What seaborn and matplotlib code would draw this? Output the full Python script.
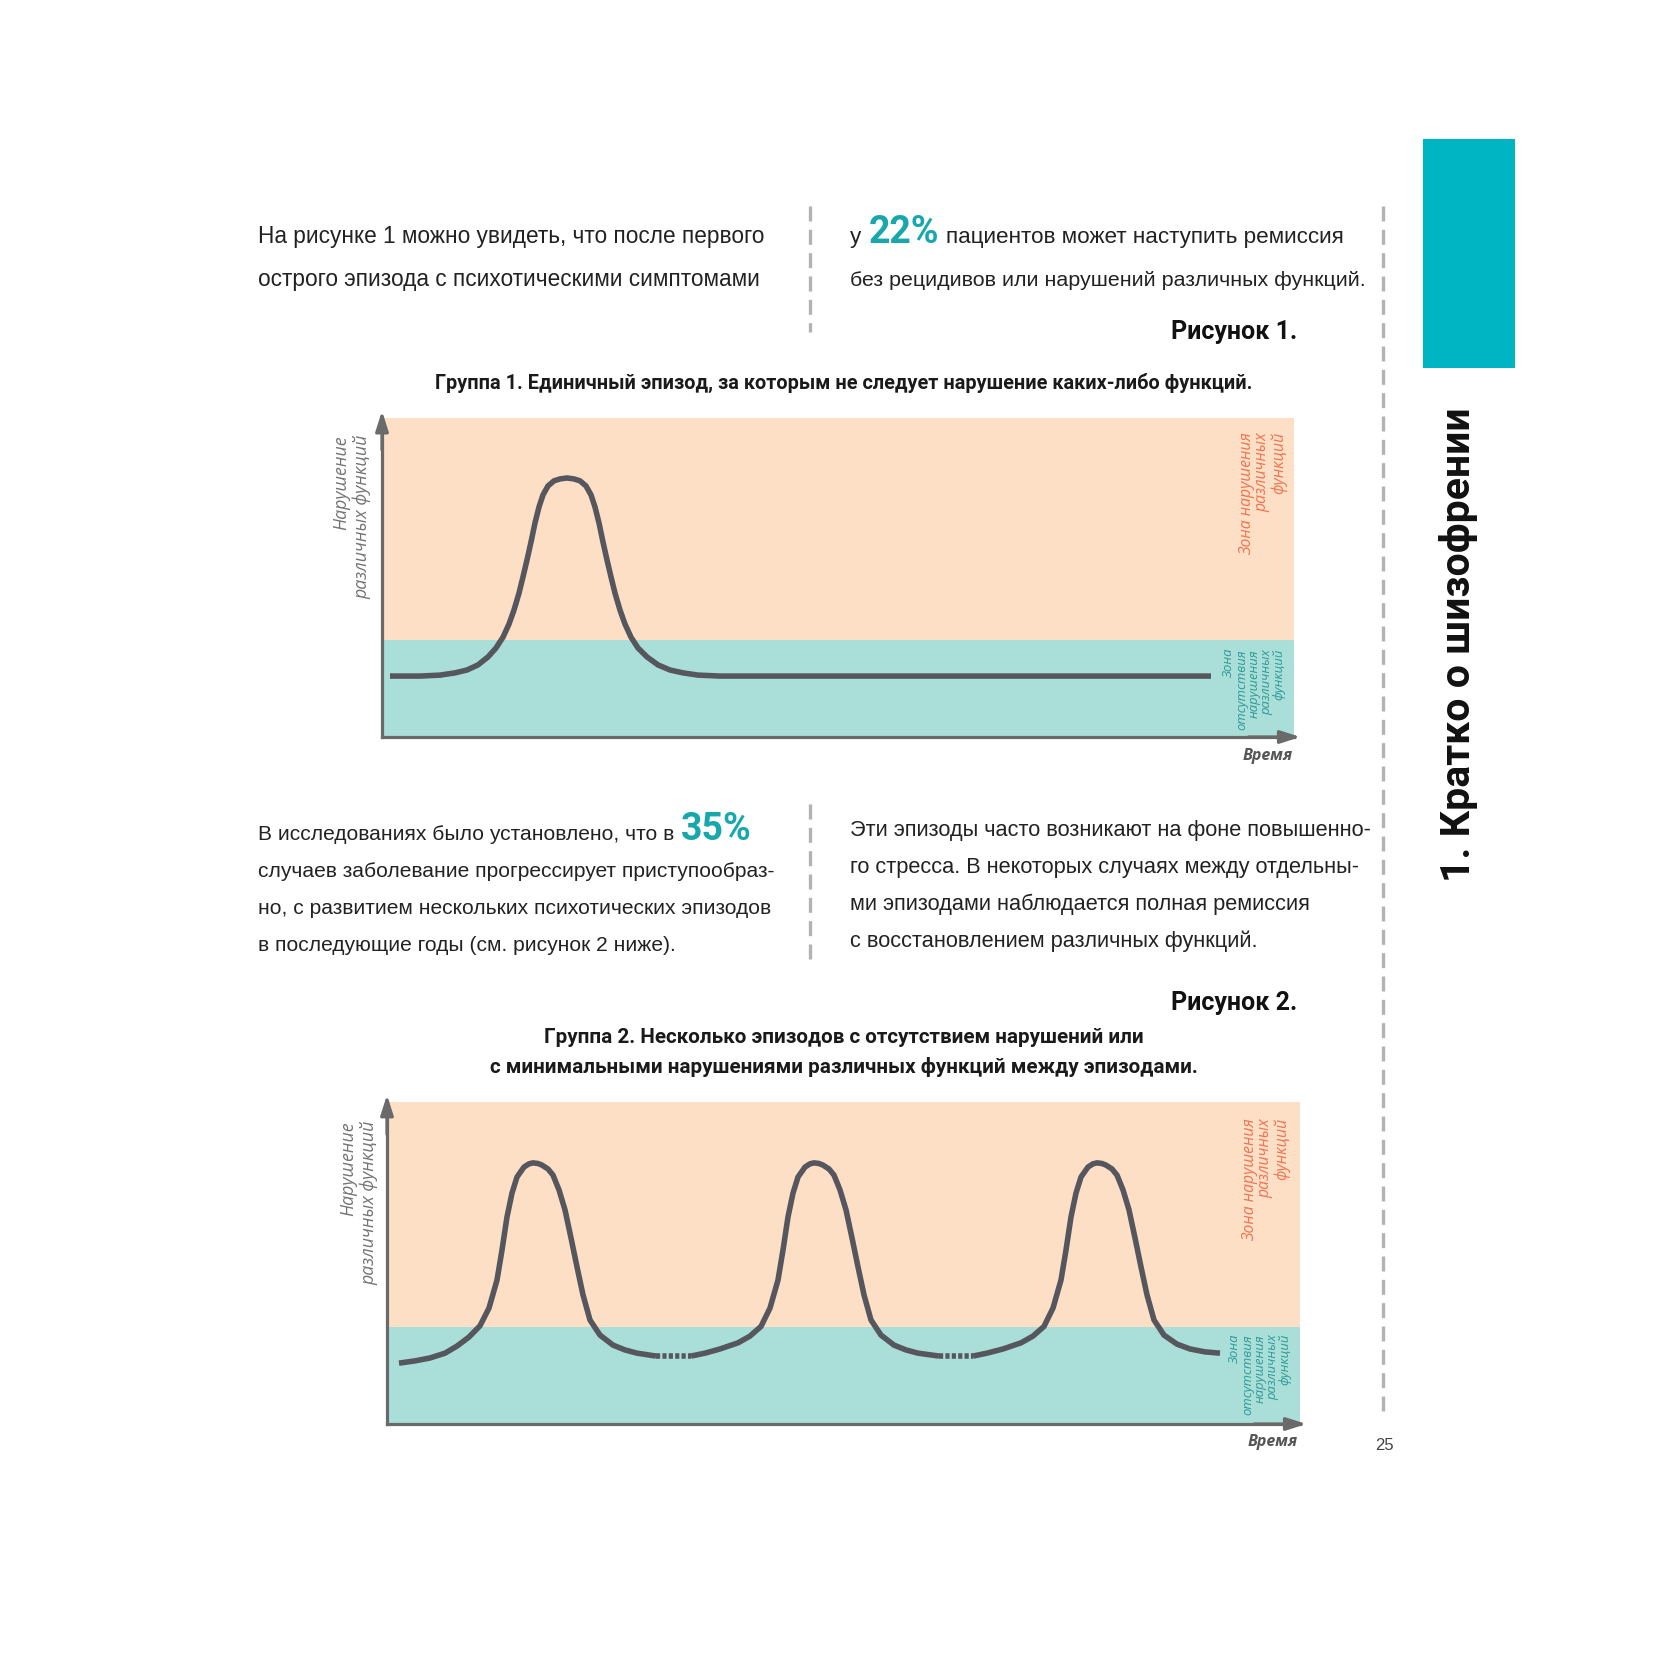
import matplotlib
matplotlib.use("Agg")
import matplotlib.pyplot as plt
import seaborn as sns
import pandas as pd
from matplotlib.lines import Line2D
from matplotlib.patches import Rectangle
from matplotlib import font_manager

# ---------------- data ----------------
# Figure 1: single episode (time units, impairment 0..100)
fig1_time = [0.8, 3.8, 5.8, 7.3, 8.5, 9.6, 10.6, 11.4, 12.1, 12.7, 13.2, 13.7, 14.1, 14.5,
             14.9, 15.3, 15.7, 16.1, 16.6, 17.2, 17.8, 18.5, 19.2, 19.8, 20.4, 20.9, 21.3,
             21.7, 22.1, 22.5, 22.9, 23.3, 23.8, 24.3, 24.9, 25.6, 26.5, 27.6, 28.8, 30.1,
             31.6, 33.8, 82.9]
fig1_level = [19.1, 19.1, 19.4, 20.1, 21.0, 22.6, 25.1, 27.9, 31.3, 35.4, 39.8, 45.1, 50.2,
              55.5, 61.1, 67.1, 72.1, 75.9, 78.7, 80.3, 80.9, 81.2, 80.9, 80.3, 78.7, 75.9,
              72.1, 67.1, 61.1, 55.5, 50.2, 45.1, 39.8, 35.4, 31.3, 27.9, 25.1, 22.6, 21.0,
              20.1, 19.4, 19.1, 19.1]
fig1_normal_zone = 30.4
fig1_xmax = 91.2

# Figure 2: several episodes, three solid segments and two dotted gaps
fig2_seg1_time = [1.2, 2.8, 4.3, 5.8, 7.0, 8.2, 9.3, 10.2, 11.0, 11.5, 12.0, 12.5, 13.0, 13.7,
                  14.2, 14.6, 15.1, 15.5, 16.1, 16.6, 17.2, 17.8, 18.4, 19.0, 19.6, 20.3,
                  21.3, 22.6, 23.8, 25.0, 26.9]
fig2_seg1_level = [18.9, 19.6, 20.5, 22.0, 24.2, 27.0, 30.5, 36.0, 44.7, 54.0, 64.3, 71.7,
                   76.7, 79.8, 80.8, 81.1, 80.9, 80.4, 79.2, 77.3, 72.7, 66.5, 57.8, 48.8,
                   40.1, 32.3, 27.6, 24.5, 23.0, 22.0, 21.1]
fig2_seg2_time = [30.4, 31.8, 33.3, 35.1, 36.3, 37.4, 38.3, 39.1, 39.6, 40.1, 40.6, 41.1,
                  41.8, 42.3, 42.7, 43.2, 43.6, 44.2, 44.7, 45.3, 45.9, 46.5, 47.1, 47.7,
                  48.4, 49.4, 50.7, 51.9, 53.1, 55.2]
fig2_seg2_level = [21.1, 22.0, 23.3, 25.2, 27.3, 30.3, 36.0, 44.7, 54.0, 64.3, 71.7, 76.7,
                   79.8, 80.8, 81.1, 80.9, 80.4, 79.2, 77.3, 72.7, 66.5, 57.8, 48.8, 40.1,
                   32.3, 27.6, 24.5, 23.0, 22.0, 21.1]
fig2_seg3_time = [58.6, 60.0, 61.6, 63.4, 64.6, 65.7, 66.6, 67.4, 67.9, 68.4, 68.9, 69.4,
                  70.1, 70.6, 71.0, 71.5, 71.9, 72.5, 73.0, 73.6, 74.2, 74.8, 75.4, 76.0,
                  76.7, 77.7, 79.0, 80.3, 81.8, 83.3]
fig2_seg3_level = [21.1, 22.0, 23.3, 25.2, 27.3, 30.3, 36.0, 44.7, 54.0, 64.3, 71.7, 76.7,
                   79.8, 80.8, 81.1, 80.9, 80.4, 79.2, 77.3, 72.7, 66.5, 57.8, 48.8, 40.1,
                   32.3, 27.6, 24.8, 23.3, 22.4, 22.0]
fig2_gap1_time = [26.9, 30.4]
fig2_gap1_level = [21.1, 21.1]
fig2_gap2_time = [55.2, 58.6]
fig2_gap2_level = [21.1, 21.1]
fig2_normal_zone = 30.1
fig2_xmax = 91.3

# texts
y_label = "Нарушение\nразличных функций"
x_label = "Время"
zone_bad = "Зона нарушения\nразличных\nфункций"
zone_ok = "Зона\nотсутствия\nнарушения\nразличных\nфункций"
para_top_left = ["На рисунке 1 можно увидеть, что после первого",
                 "острого эпизода с психотическими симптомами"]
para_top_right_pre = "у "
para_top_right_num = "22%"
para_top_right_post = "пациентов может наступить ремиссия"
para_top_right_line2 = "без рецидивов или нарушений различных функций."
fig1_caption = "Рисунок 1."
fig1_title = "Группа 1. Единичный эпизод, за которым не следует нарушение каких-либо функций."
para_mid_left_pre = "В исследованиях было установлено, что в "
para_mid_left_num = "35%"
para_mid_left = ["случаев заболевание прогрессирует приступообраз-",
                 "но, с развитием нескольких психотических эпизодов",
                 "в последующие годы (см. рисунок 2 ниже)."]
para_mid_right = ["Эти эпизоды часто возникают на фоне повышенно-",
                  "го стресса. В некоторых случаях между отдельны-",
                  "ми эпизодами наблюдается полная ремиссия",
                  "с восстановлением различных функций."]
fig2_caption = "Рисунок 2."
fig2_title = ["Группа 2. Несколько эпизодов с отсутствием нарушений или",
              "с минимальными нарушениями различных функций между эпизодами."]
side_title = "1. Кратко о шизофрении"
page_number = "25"

# ---------------- style ----------------
sns.set_theme(style="white")
available = {f.name for f in font_manager.fontManager.ttflist}
BODY = ["Liberation Sans", "DejaVu Sans"]
NARROW = (["Liberation Sans Narrow", "DejaVu Sans"] if "Liberation Sans Narrow" in available
          else ["Roboto", "DejaVu Sans"])
LABEL = ["Open Sans", "DejaVu Sans"]
plt.rcParams["font.family"] = BODY

ORANGE_BG = "#FDDFC6"
TEAL_BG = "#A9DFD8"
CURVE = "#56565E"
AXIS = "#6A6A6A"
ACCENT = "#18A7AD"
SIDE = "#00B5C3"
TXT = "#222222"
ZONE_BAD_C = "#EF7452"
ZONE_OK_C = "#2F9A97"

W = 1654.0
fig = plt.figure(figsize=(16.54, 16.54), dpi=100)
fig.patch.set_facecolor("white")


def fx(px):
    return px / W


def fy(py):
    return 1.0 - py / W


renderer = fig.canvas.get_renderer()

# ---------------- page text ----------------
for i, line in enumerate(para_top_left):
    fig.text(fx(258), fy(243 + i * 43), line, fontsize=16.3, color=TXT, va="baseline")

t = fig.text(fx(850), fy(243), para_top_right_pre, fontsize=16.2, color=TXT, va="baseline")
x_next = t.get_window_extent(renderer).x1 + 1
t = fig.text(x_next / W, fy(243), para_top_right_num, fontsize=27, color=ACCENT,
             weight="bold", family=NARROW, va="baseline")
x_next = t.get_window_extent(renderer).x1 + 7
fig.text(x_next / W, fy(243), para_top_right_post, fontsize=16.2, color=TXT, va="baseline")
fig.text(fx(850), fy(286), para_top_right_line2, fontsize=15.4, color=TXT, va="baseline")

fig.text(fx(1297), fy(339), fig1_caption, fontsize=18, weight="bold", family=NARROW,
         color="#111111", ha="right", va="baseline")
fig.text(fx(844), fy(389), fig1_title, fontsize=14.3, weight="bold", family=NARROW,
         color="#1a1a1a", ha="center", va="baseline")

t = fig.text(fx(258), fy(840), para_mid_left_pre, fontsize=15.1, color=TXT, va="baseline")
x_next = t.get_window_extent(renderer).x1 + 1
fig.text(x_next / W, fy(840), para_mid_left_num, fontsize=27, color=ACCENT,
         weight="bold", family=NARROW, va="baseline")
for i, line in enumerate(para_mid_left):
    fig.text(fx(258), fy(877 + i * 37), line, fontsize=15.1, color=TXT, va="baseline")
for i, line in enumerate(para_mid_right):
    fig.text(fx(850), fy(836 + i * 37), line, fontsize=15.7, color=TXT, va="baseline")

fig.text(fx(1297), fy(1010), fig2_caption, fontsize=18, weight="bold", family=NARROW,
         color="#111111", ha="right", va="baseline")
for i, line in enumerate(fig2_title):
    fig.text(fx(844), fy(1043 + i * 30), line, fontsize=14.9, weight="bold", family=NARROW,
             color="#1a1a1a", ha="center", va="baseline")

fig.text(fx(1384), fy(1450), page_number, fontsize=12, color="#444444", ha="center",
         va="baseline")

# side tab and title
fig.add_artist(Rectangle((fx(1423), fy(368)), (1515 - 1423) / W, (368 - 139) / W,
                         transform=fig.transFigure, color=SIDE, lw=0))
fig.text(fx(1458), fy(882), side_title, rotation=90, ha="center", va="bottom",
         fontsize=29.5, weight="bold", family=NARROW, color="#111111")

# dashed separators
for (x0, y0, y1) in [(810, 206, 332), (810, 804, 965), (1383, 206, 1419)]:
    fig.add_artist(Line2D([fx(x0), fx(x0)], [fy(y0), fy(y1)], transform=fig.transFigure,
                          color="#B3B3B3", lw=2.4, linestyle=(0, (4.5, 2.5))))


# ---------------- charts ----------------
def setup_axes(ax, xmax, normal_zone):
    ax.set_xlim(0, xmax)
    ax.set_ylim(0, 100)
    ax.set_facecolor("none")
    ax.axhspan(0, normal_zone, color=TEAL_BG, lw=0, zorder=0)
    ax.axhspan(normal_zone, 100, color=ORANGE_BG, lw=0, zorder=0)
    ax.set_xticks([])
    ax.set_yticks([])
    ax.set_xlabel("")
    ax.set_ylabel("")
    for s in ["top", "right"]:
        ax.spines[s].set_visible(False)
    for s in ["left", "bottom"]:
        ax.spines[s].set_visible(True)
        ax.spines[s].set_color(AXIS)
        ax.spines[s].set_linewidth(2.3)
        ax.spines[s].set_zorder(5)
    arrow = dict(arrowstyle="-|>,head_length=1.0,head_width=0.32", color=AXIS, lw=2.3,
                 shrinkA=0, shrinkB=0)
    ax.annotate("", xy=(1.007, 0), xytext=(0.95, 0), xycoords="axes fraction",
                arrowprops=arrow, annotation_clip=False, zorder=6)
    ax.annotate("", xy=(0, 1.022), xytext=(0, 0.9), xycoords="axes fraction",
                arrowprops=arrow, annotation_clip=False, zorder=6)


def line(ax, x, y, dotted=False):
    df = pd.DataFrame({"time": x, "level": y})
    kw = dict(color=CURVE, linewidth=4.0, ax=ax, estimator=None, sort=False, legend=False,
              zorder=3)
    if dotted:
        sns.lineplot(data=df, x="time", y="level", linestyle=(0, (0.75, 0.4)),
                     dash_capstyle="butt", **kw)
    else:
        sns.lineplot(data=df, x="time", y="level", solid_joinstyle="round",
                     solid_capstyle="butt", **kw)


def labels(ax_px, ylab_xy, bad_xy, ok_xy, time_xy):
    fig.text(fx(ylab_xy[0]), fy(ylab_xy[1]), y_label, rotation=90, ha="center", va="top",
             multialignment="right", fontsize=12.8, style="italic", family=LABEL,
             color="#747474", linespacing=1.15)
    fig.text(fx(bad_xy[0]), fy(bad_xy[1]), zone_bad, rotation=90, ha="center", va="top",
             multialignment="right", fontsize=11.3, family=LABEL, color=ZONE_BAD_C,
             linespacing=1.0, style="italic")
    fig.text(fx(ok_xy[0]), fy(ok_xy[1]), zone_ok, rotation=90, ha="center", va="top",
             multialignment="right", fontsize=9.4, family=LABEL, color=ZONE_OK_C,
             linespacing=0.95, style="italic")
    fig.text(fx(time_xy[0]), fy(time_xy[1]), x_label, ha="right", va="center",
             fontsize=11.5, style="italic", weight="bold", family=LABEL, color="#555555")


# Figure 1
ax1 = fig.add_axes([fx(382), fy(737), (1294 - 382) / W, (737 - 418) / W])
setup_axes(ax1, fig1_xmax, fig1_normal_zone)
line(ax1, fig1_time, fig1_level)
labels(ax1, (352, 435), (1263, 432), (1254, 649), (1293, 756))

# Figure 2
ax2 = fig.add_axes([fx(387), fy(1424), (1300 - 387) / W, (1424 - 1102) / W])
setup_axes(ax2, fig2_xmax, fig2_normal_zone)
line(ax2, fig2_seg1_time, fig2_seg1_level)
line(ax2, fig2_gap1_time, fig2_gap1_level, dotted=True)
line(ax2, fig2_seg2_time, fig2_seg2_level)
line(ax2, fig2_gap2_time, fig2_gap2_level, dotted=True)
line(ax2, fig2_seg3_time, fig2_seg3_level)
labels(ax2, (359, 1121), (1266, 1118), (1260, 1334), (1298, 1442))

fig.savefig("out.png", dpi=100, facecolor="white")
